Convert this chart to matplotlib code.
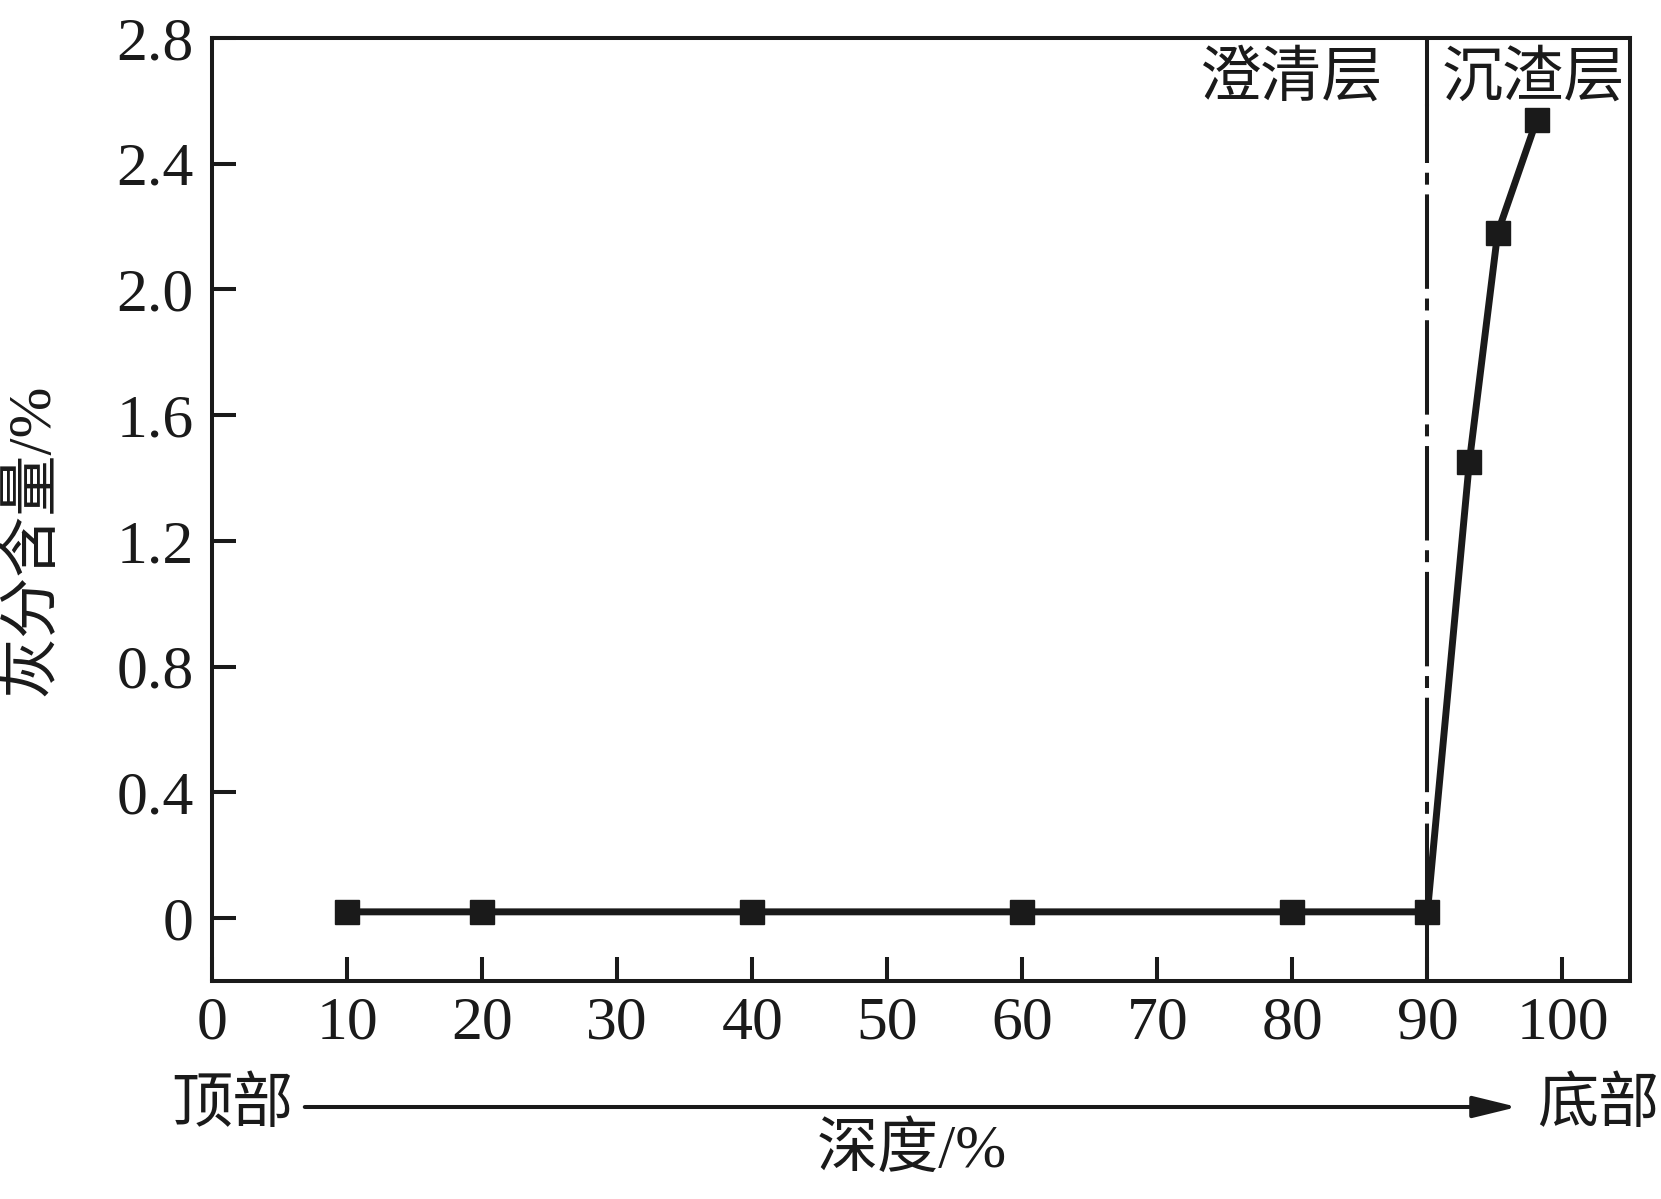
import matplotlib
matplotlib.use("Agg")
import matplotlib.pyplot as plt
from matplotlib.patches import FancyArrowPatch

plt.rcParams['font.family'] = ['Liberation Serif', 'Noto Sans CJK SC']
plt.rcParams['lines.scale_dashes'] = False

# Data
depth = [10, 20, 40, 60, 80, 90, 93.1, 95.2, 98.1]
ash = [0.02, 0.02, 0.02, 0.02, 0.02, 0.02, 1.45, 2.18, 2.54]
xticks = [0, 10, 20, 30, 40, 50, 60, 70, 80, 90, 100]
yticks = [0, 0.4, 0.8, 1.2, 1.6, 2.0, 2.4, 2.8]
ytick_labels = ['0', '0.4', '0.8', '1.2', '1.6', '2.0', '2.4', '2.8']
boundary = 90
ylabel = '灰分含量/%'
xlabel = '深度/%'
left_zone = '澄清层'
right_zone = '沉渣层'
top_label = '顶部'
bottom_label = '底部'

W, H = 1661, 1199
fig = plt.figure(figsize=(W / 100, H / 100), dpi=100)
ax = fig.add_axes([212 / W, 1 - 981 / H, (1630 - 212) / W, (981 - 38) / H])

c = '#1a1a1a'
ax.plot(depth, ash, color=c, lw=5.0, marker='s', markersize=17,
        markerfacecolor=c, markeredgecolor=c, zorder=3)

# divider line
ax.plot([boundary, boundary], [2.59, 2.8], color=c, lw=2.9, zorder=2)
ax.plot([boundary, boundary], [0.0, 2.59], color=c, lw=2.9,
        dashes=(68, 7, 8.6, 7), zorder=2)
ax.plot([boundary, boundary], [-0.2, 0.0], color=c, lw=2.9, zorder=2)

ax.set_xlim(0, 105)
ax.set_ylim(-0.2, 2.8)
ax.set_xticks(xticks)
ax.set_xticklabels([str(t) for t in xticks])
ax.set_yticks(yticks)
ax.set_yticklabels(ytick_labels)

for s in ax.spines.values():
    s.set_linewidth(2.9)
    s.set_color(c)
ax.tick_params(direction='in', length=17, width=2.9, color=c,
               labelsize=44.5, labelcolor=c)
ax.tick_params(axis='x', pad=11)
ax.tick_params(axis='y', pad=13)

ax.text(1383 / W, 1 - 80 / H, left_zone, transform=fig.transFigure,
        ha='right', va='center', fontsize=44, color=c)
ax.text(1442 / W, 1 - 80 / H, right_zone, transform=fig.transFigure,
        ha='left', va='center', fontsize=44, color=c)

fig.text(33 / W, 1 - 540 / H, ylabel, rotation=90, ha='center', va='center',
         fontsize=44, color=c)
fig.text(912 / W, 1 - 1152 / H, xlabel, ha='center', va='center',
         fontsize=44, color=c)
fig.text(232 / W, 1 - 1107 / H, top_label, ha='center', va='center',
         fontsize=44, color=c)
fig.text(1598 / W, 1 - 1107 / H, bottom_label, ha='center', va='center',
         fontsize=44, color=c)

arrow = FancyArrowPatch((302 / W, 1 - 1107 / H), (1520 / W, 1 - 1107 / H),
                        transform=fig.transFigure,
                        arrowstyle='-|>,head_length=1.35,head_width=0.33',
                        mutation_scale=20, lw=2.9, color=c)
fig.patches.append(arrow)

fig.savefig('out.png', dpi=100, facecolor='white')
